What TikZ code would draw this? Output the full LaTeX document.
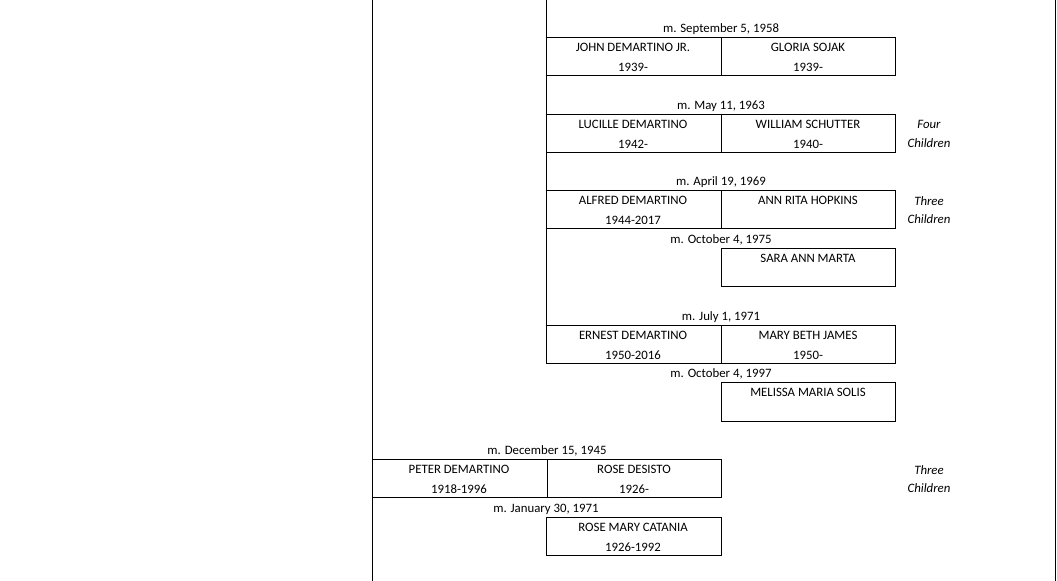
\documentclass[tikz,border=0pt]{standalone}
\usepackage{fontspec}
\setmainfont{Carlito}
\begin{document}
\begin{tikzpicture}[x=0.75pt,y=-0.75pt,
  bx/.style={draw,line width=0.6pt},
  t/.style={font=\fontsize{9.6}{10}\selectfont,inner sep=0pt},
  ch/.style={font=\fontsize{9.6}{10}\selectfont\itshape,inner sep=0pt,align=center}]
\useasboundingbox (0,0) rectangle (1057,581);
\draw[line width=0.6pt] (372,0) -- (372,581);
\draw[line width=0.6pt] (1055,0) -- (1055,581);
\coordinate (vt) at (546,0);
\coordinate (vb) at (546,325);
\draw[line width=0.6pt] (vt) -- (vb);
\newcommand{\cpl}[8]{%
  \draw[bx] (#1,#2) rectangle ++(175,38);
  \draw[bx] (#1+175,#2) rectangle ++(174,38);
  \node[t] (#8m) at (#1+175,#2-8) {#3};
  \node[t] (#8a) at (#1+87,#2+10) {#4};
  \node[t] (#8b) at (#1+87,#2+30) {#5};
  \node[t] (#8c) at (#1+262,#2+10) {#6};
  \node[t] (#8d) at (#1+262,#2+30) {#7};
}
\cpl{546}{37}{m. September 5, 1958}{JOHN DEMARTINO JR.}{1939-}{GLORIA SOJAK}{1939-}{j}
\cpl{546}{114}{m. May 11, 1963}{LUCILLE DEMARTINO}{1942-}{WILLIAM SCHUTTER}{1940-}{l}
\cpl{546}{190}{m. April 19, 1969}{ALFRED DEMARTINO}{1944-2017}{ANN RITA HOPKINS}{}{a}
\cpl{546}{325}{m. July 1, 1971}{ERNEST DEMARTINO}{1950-2016}{MARY BETH JAMES}{1950-}{e}
\cpl{372}{459}{m. December 15, 1945}{PETER DEMARTINO}{1918-1996}{ROSE DESISTO}{1926-}{p}
\draw[bx] (721,248) rectangle (895,286);
\node[t] (sm) at (721,240) {m. October 4, 1975};
\node[t] (s) at (808,258) {SARA ANN MARTA};
\draw[bx] (721,382) rectangle (895,421);
\node[t] (mm) at (721,374) {m. October 4, 1997};
\node[t] (m) at (808,392) {MELISSA MARIA SOLIS};
\draw[bx] (546,517) rectangle (721,555);
\node[t] (rm) at (546,509) {m. January 30, 1971};
\node[t] (r1) at (633,527) {ROSE MARY CATANIA};
\node[t] (r2) at (633,547) {1926-1992};
\node[ch] (c1) at (929,134) {Four\\[4pt]Children};
\node[ch] (c2) at (929,210) {Three\\[4pt]Children};
\node[ch] (c3) at (929,479) {Three\\[4pt]Children};
\end{tikzpicture}
\end{document}
